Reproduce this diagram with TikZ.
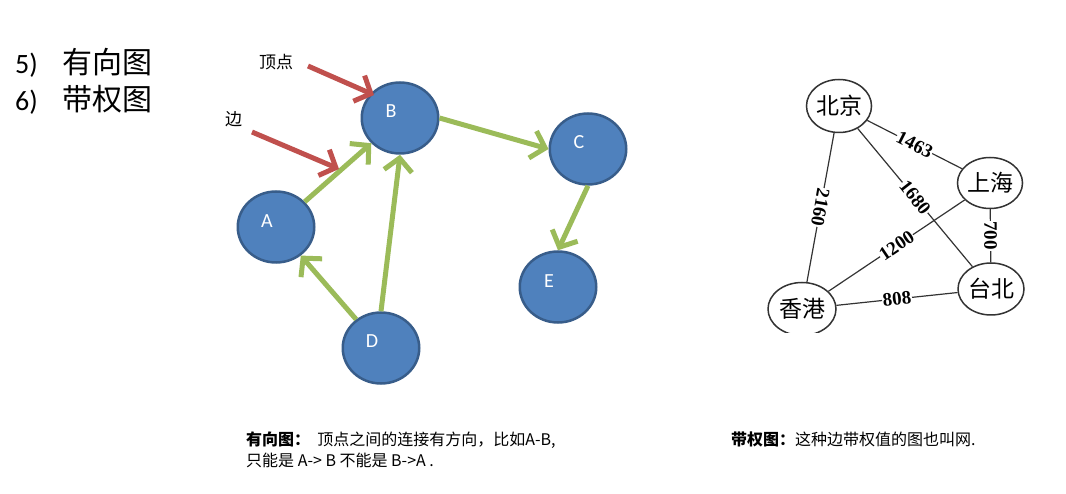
\documentclass[tikz,border=0pt]{standalone}
\usepackage{fontspec}
\setmainfont{Carlito}
\newfontfamily\cjk{Noto Sans CJK SC}
\newfontfamily\numf{Liberation Serif}
\usetikzlibrary{arrows.meta,shapes.geometric,calc}
\definecolor{vfill}{HTML}{4F81BD}
\definecolor{vborder}{HTML}{385D8A}
\definecolor{egreen}{HTML}{9BBB59}
\definecolor{ered}{HTML}{C0504D}
\definecolor{wline}{HTML}{333333}
\tikzset{
  vtx/.style={ellipse, draw=vborder, fill=vfill, line width=2.5pt, minimum width=76.5pt, minimum height=71pt, inner sep=0pt},
  vlab/.style={text=white, font=\fontsize{20}{20}\selectfont, inner sep=0pt},
  garrow/.style={draw=egreen, line width=5pt, -{Straight Barb[length=13pt,width=28pt]}},
  rarrow/.style={draw=ered, line width=5pt, -{Straight Barb[length=13pt,width=28pt]}},
  wnode/.style={ellipse, draw=wline, line width=1.5pt, inner sep=0pt, font=\cjk\fontsize{23}{23}\selectfont},
  wedge/.style={draw=wline, line width=1.2pt},
  wlab/.style={fill=white, inner sep=0.6pt, font=\numf\bfseries\fontsize{19}{19}\selectfont},
  txt/.style={anchor=base west, inner sep=0pt},
}
\begin{document}
\begin{tikzpicture}[x=1pt,y=-1pt]
\useasboundingbox (0,0) rectangle (1066,494);

% left list
\node[txt, font=\fontsize{28}{30}\selectfont] (n5) at (15,74) {5)};
\node[txt, font=\cjk\fontsize{30}{32}\selectfont] (t5) at (62,74) {有向图};
\node[txt, font=\fontsize{28}{30}\selectfont] (n6) at (15,111) {6)};
\node[txt, font=\cjk\fontsize{30}{32}\selectfont] (t6) at (62,111) {带权图};

% directed graph
\node[vtx] (A) at (276,227) {};
\node[vtx] (B) at (400,118) {};
\node[vtx] (C) at (588,149) {};
\node[vtx] (D) at (381,348) {};
\node[vtx] (E) at (558,287) {};
\node[vlab] (lA) at ($(A)+(-9,-6)$) {A};
\node[vlab] (lB) at ($(B)+(-9,-7)$) {B};
\node[vlab] (lC) at ($(C)+(-9,-7)$) {C};
\node[vlab] (lD) at ($(D)+(-9,-7)$) {D};
\node[vlab] (lE) at ($(E)+(-9,-6)$) {E};

\draw[garrow] (A) -- (B);
\draw[garrow] (D) -- (A);
\draw[garrow] (D.north) -- (B.south);
\draw[garrow] (B.east) -- (C.west);
\draw[garrow] (C.south) -- (E.north);

% red pointers
\node[txt, font=\cjk\fontsize{17}{17}\selectfont] (lv) at (259,69) {顶点};
\node[txt, font=\cjk\fontsize{17}{17}\selectfont] (le) at (225,126) {边};
\coordinate (r1s) at (308,66);
\coordinate (r1e) at (374,95);
\coordinate (r2s) at (252,132);
\coordinate (r2e) at (339,169);
\draw[rarrow] (r1s) -- (r1e);
\draw[rarrow] (r2s) -- (r2e);

% weighted graph
\begin{scope}
\clip (740,60) rectangle (1066,333);
\node[wnode, minimum width=65pt, minimum height=53pt] (bj) at (839,106) {北京};
\node[wnode, minimum width=65pt, minimum height=51pt] (sh) at (990,183) {上海};
\node[wnode, minimum width=66pt, minimum height=52pt] (tb) at (991,289) {台北};
\node[wnode, minimum width=68pt, minimum height=53pt] (hk) at (802,309) {香港};
\draw[wedge] (bj) -- node[wlab, rotate=-27] {1463} (sh);
\draw[wedge] (bj) -- node[wlab, rotate=-52] {1680} (tb);
\draw[wedge] (bj) -- node[wlab, rotate=-100] {2160} (hk);
\draw[wedge] (sh) -- node[wlab, rotate=-90] {700} (tb);
\draw[wedge] (hk) -- node[wlab, rotate=34] {1200} (sh);
\draw[wedge] (hk) -- node[wlab, rotate=6] {808} (tb);
\end{scope}

% captions
\node[txt, font=\cjk\fontsize{16}{16}\selectfont] (cap1) at (246,445) {{\bfseries 有向图：}\ \ 顶点之间的连接有方向，比如A-B,};
\node[txt, font=\cjk\fontsize{16}{16}\selectfont] (cap2) at (246,466) {只能是 A-> B 不能是 B->A .};
\node[txt, font=\cjk\fontsize{16}{16}\selectfont] (cap3) at (731,445) {{\bfseries 带权图：}这种边带权值的图也叫网.};
\end{tikzpicture}
\end{document}
